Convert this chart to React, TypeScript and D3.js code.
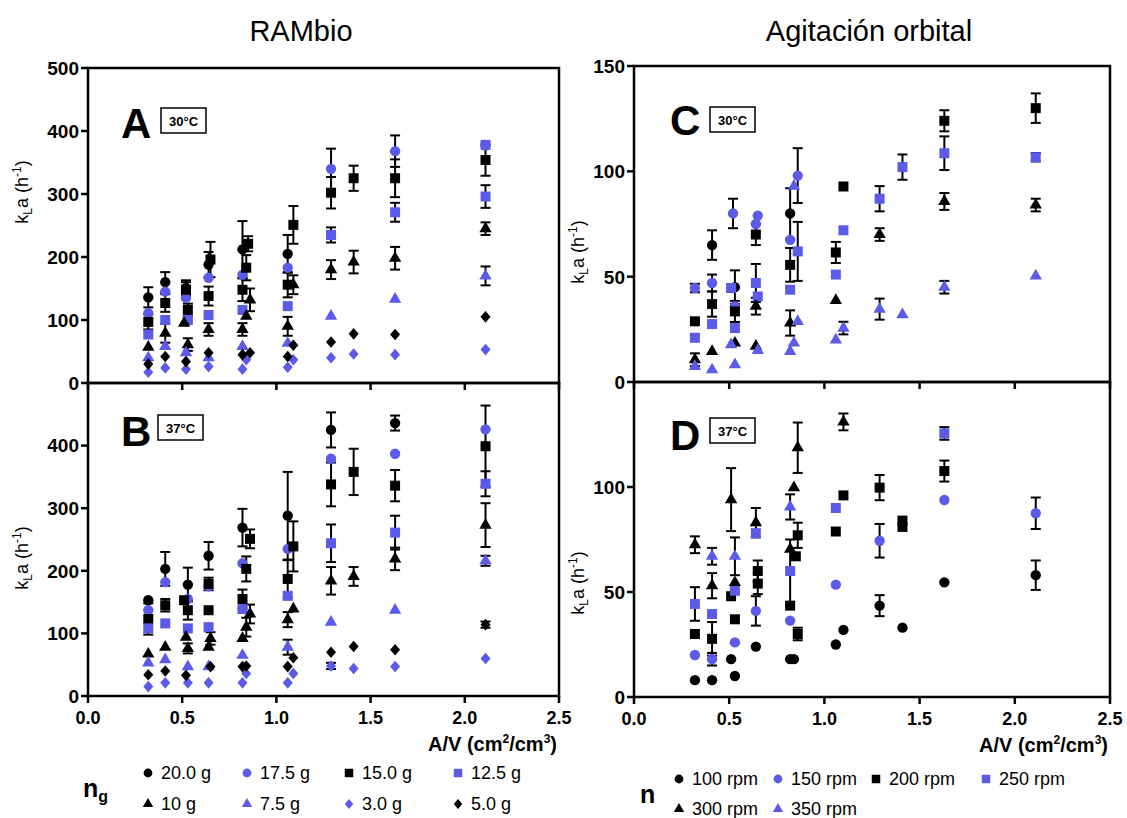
import React from 'react';
import * as d3 from 'd3';

type Pt = [number, number, number];

// ---------- Panel A: RAMbio 30°C (x = A/V, y = kLa, err) ----------
const A_g200: Pt[] = [[0.32,136,16],[0.41,160,16],[0.52,151,12],[0.64,188,20],[0.82,212,45],[1.06,205,30]];
const A_g175: Pt[] = [[0.32,111,0],[0.41,145,0],[0.52,135,0],[0.64,167,0],[0.82,172,0],[1.06,183,0],[1.29,340,32],[1.63,368,25],[2.11,377,0]];
const A_g150: Pt[] = [[0.32,97,12],[0.41,127,14],[0.52,148,12],[0.53,116,10],[0.65,196,28],[0.64,138,15],[0.85,221,12],[0.84,183,20],[0.82,148,18],[1.09,251,30],[1.06,156,20],[1.29,302,25],[1.41,325,20],[1.63,325,30],[2.11,354,25]];
const A_g125: Pt[] = [[0.32,77,0],[0.41,100,0],[0.53,100,0],[0.64,108,0],[0.82,116,0],[1.06,122,0],[1.29,235,12],[1.63,271,15],[2.11,296,18],[2.11,378,0]];
const A_g100: Pt[] = [[0.32,57,0],[0.41,79,15],[0.51,95,0],[0.53,61,10],[0.64,85,10],[0.86,132,18],[0.84,106,0],[0.82,85,10],[1.09,156,15],[1.06,90,15],[1.29,180,15],[1.41,192,18],[1.63,198,18],[2.11,245,10]];
const A_g75: Pt[] = [[0.32,40,0],[0.41,58,0],[0.52,48,0],[0.64,40,0],[0.82,58,0],[1.06,63,0],[1.29,106,0],[1.63,133,0],[2.11,170,15]];
const A_g30: Pt[] = [[0.32,17,0],[0.41,24,0],[0.52,22,0],[0.64,26,0],[0.82,22,0],[0.84,37,0],[1.06,25,0],[1.09,37,0],[1.29,40,0],[1.41,46,0],[1.63,45,0],[2.11,53,0]];
const A_g50: Pt[] = [[0.32,30,0],[0.41,42,0],[0.52,34,0],[0.64,48,0],[0.82,45,0],[0.86,48,0],[1.06,42,0],[1.09,60,0],[1.29,65,0],[1.41,78,0],[1.63,77,0],[2.11,105,0]];

// ---------- Panel B: RAMbio 37°C ----------
const B_g200: Pt[] = [[0.32,153,0],[0.41,203,27],[0.53,178,27],[0.64,224,22],[0.82,269,30],[1.06,288,70],[1.29,425,28],[1.63,436,12]];
const B_g175: Pt[] = [[0.32,137,0],[0.41,182,0],[0.53,155,0],[0.64,175,0],[0.82,212,0],[1.06,235,0],[1.29,379,0],[1.63,387,0],[2.11,426,0]];
const B_g150: Pt[] = [[0.32,123,25],[0.41,145,10],[0.51,153,0],[0.53,137,15],[0.64,179,10],[0.64,137,0],[0.86,251,15],[0.84,203,20],[0.82,155,15],[1.09,239,40],[1.06,187,30],[1.29,338,35],[1.41,358,37],[1.63,336,25],[2.11,399,65]];
const B_g125: Pt[] = [[0.32,108,0],[0.41,116,0],[0.53,108,0],[0.64,110,0],[0.82,139,0],[1.06,160,0],[1.29,244,30],[1.63,261,27],[2.11,339,20]];
const B_g100: Pt[] = [[0.32,67,0],[0.41,78,0],[0.52,94,0],[0.53,76,8],[0.65,92,10],[0.64,78,0],[0.86,131,15],[0.84,110,15],[0.82,92,0],[1.09,139,0],[1.06,122,12],[1.29,184,22],[1.41,191,15],[1.63,219,18],[2.11,273,35]];
const B_g75: Pt[] = [[0.32,53,0],[0.41,58,0],[0.53,47,0],[0.64,47,0],[0.82,65,0],[1.06,78,12],[1.29,118,0],[1.63,137,0],[2.11,216,8]];
const B_g30: Pt[] = [[0.32,15,0],[0.41,21,0],[0.53,21,0],[0.64,21,0],[0.82,21,0],[0.84,36,0],[1.06,21,0],[1.09,36,0],[1.29,48,5],[1.41,44,0],[1.63,47,0],[2.11,60,0]];
const B_g50: Pt[] = [[0.32,34,0],[0.41,40,0],[0.52,33,0],[0.65,47,0],[0.82,47,0],[0.84,48,0],[1.06,47,0],[1.09,61,0],[1.29,70,0],[1.41,79,0],[1.63,74,0],[2.11,114,5]];

// ---------- Panel C: orbital 30°C ----------
const C_100: Pt[] = [[0.41,65,7],[0.53,45,8],[0.82,80,12]];
const C_150: Pt[] = [[0.32,44.6,2],[0.41,47,4],[0.52,80,7],[0.53,36,0],[0.65,79,0],[0.64,75,0],[0.86,98,13],[0.82,67.5,0]];
const C_200: Pt[] = [[0.32,28.8,0],[0.41,37,6],[0.53,33.5,5],[0.64,70,5],[0.82,55.6,8],[1.10,92.8,0],[1.06,61.5,5],[1.63,124,5],[2.11,130,7]];
const C_250: Pt[] = [[0.32,21,0],[0.41,27.5,0],[0.51,44.6,0],[0.53,25.6,0],[0.64,47,9],[0.65,40.6,0],[0.86,62,14],[0.82,43.8,0],[1.10,72,0],[1.06,51,0],[1.29,87,6],[1.41,102,6],[1.63,108.6,8],[2.11,106.7,2]];
const C_300: Pt[] = [[0.32,10.6,3],[0.41,14.5,0],[0.53,18.5,0],[0.64,36,4],[0.64,17,0],[0.82,28,6],[1.06,38.7,0],[1.29,70,3],[1.63,85.7,4],[2.11,84,3]];
const C_350: Pt[] = [[0.32,7.4,0],[0.41,5.8,0],[0.51,17.7,0],[0.53,8.2,0],[0.65,15,0],[0.84,93,0],[0.86,28.8,0],[0.84,18.5,0],[0.82,14.5,0],[1.10,25.6,3],[1.06,20,0],[1.29,34.6,5],[1.41,32,0],[1.63,45,3],[2.11,50.4,0]];

// ---------- Panel D: orbital 37°C ----------
const D_100: Pt[] = [[0.32,8,0],[0.41,8,0],[0.51,18,0],[0.53,10,0],[0.64,24,0],[0.82,18,0],[0.84,18,0],[1.10,32,0],[1.06,25,0],[1.29,43.5,5],[1.41,33,0],[1.63,54.6,0],[2.11,58,7]];
const D_150: Pt[] = [[0.32,20,0],[0.41,18,3],[0.53,26,0],[0.64,41,7],[0.82,36.4,0],[1.06,53.5,0],[1.29,74.4,8],[1.63,93.8,0],[2.11,87.5,7.5]];
const D_200: Pt[] = [[0.32,30,0],[0.41,27.7,8],[0.51,48,0],[0.53,37,0],[0.65,60,5],[0.65,54,5],[0.86,77,6],[0.85,67,0],[0.82,43.5,0],[0.86,30,3],[1.10,96,0],[1.06,78.8,0],[1.29,99.7,6],[1.41,84,0],[1.41,81,0],[1.63,107.6,5]];
const D_250: Pt[] = [[0.32,44.3,8],[0.41,39.5,0],[0.53,50.6,0],[0.64,78,0],[0.82,60,15],[1.06,90,0],[1.63,125.5,3]];
const D_300: Pt[] = [[0.32,72.5,4],[0.41,53,6],[0.51,94,15],[0.53,54.5,0],[0.64,83,7],[0.86,118.7,12],[0.84,99.7,0],[0.82,70.4,0],[1.10,131,4]];
const D_350: Pt[] = [[0.41,67,4],[0.53,67,9],[0.82,90.5,6]];

// ---------- Legends / ticks ----------
const ramLabels = ['20.0 g', '17.5 g', '15.0 g', '12.5 g', '10 g', '7.5 g', '3.0 g', '5.0 g'];
const orbLabels = ['100 rpm', '150 rpm', '200 rpm', '250 rpm', '300 rpm', '350 rpm'];
const xTicks = [0, 0.5, 1.0, 1.5, 2.0, 2.5];
const ramTicksTop = [0, 100, 200, 300, 400, 500];
const ramTicksBot = [0, 100, 200, 300, 400];
const orbTicksTop = [0, 50, 100, 150];
const orbTicksBot = [0, 50, 100];

const BLUE = '#5b5be8';
const BLACK = '#000';
const FONT = 'Liberation Sans, Arial, Helvetica, sans-serif';
const NARROW = '"Liberation Sans Narrow", "Arial Narrow", "Liberation Sans", sans-serif';

type Shape = 'circle' | 'square' | 'triangle' | 'diamond';
const ramStyles: { shape: Shape; color: string }[] = [
  { shape: 'circle', color: BLACK }, { shape: 'circle', color: BLUE },
  { shape: 'square', color: BLACK }, { shape: 'square', color: BLUE },
  { shape: 'triangle', color: BLACK }, { shape: 'triangle', color: BLUE },
  { shape: 'diamond', color: BLUE }, { shape: 'diamond', color: BLACK },
];
const orbStyles: { shape: Shape; color: string }[] = [
  { shape: 'circle', color: BLACK }, { shape: 'circle', color: BLUE },
  { shape: 'square', color: BLACK }, { shape: 'square', color: BLUE },
  { shape: 'triangle', color: BLACK }, { shape: 'triangle', color: BLUE },
];

function symbolPath(shape: Shape, k = 1): string {
  if (shape === 'circle') return d3.symbol().type(d3.symbolCircle).size(84 * k * k)() as string;
  if (shape === 'square') return d3.symbol().type(d3.symbolSquare).size(100 * k * k)() as string;
  if (shape === 'triangle') return d3.symbol().type(d3.symbolTriangle).size(66 * k * k)() as string;
  const w = 5 * k, h = 5.8 * k;
  return `M0,${-h}L${w},0L0,${h}L${-w},0Z`;
}

interface PanelDef {
  letter: string; temp: string;
  x0: number; x1: number; yTop: number; yBot: number; yMax: number;
  yTicks: number[]; bottom: boolean;
  series: Pt[][]; styles: { shape: Shape; color: string }[];
  letterX: number; letterY: number; boxX: number; boxY: number;
  ylabX: number; ylabY: number;
}

const panels: PanelDef[] = [
  { letter: 'A', temp: '30°C', x0: 88, x1: 559, yTop: 68, yBot: 383, yMax: 500, yTicks: ramTicksTop, bottom: false,
    series: [A_g200, A_g175, A_g150, A_g125, A_g100, A_g75, A_g30, A_g50], styles: ramStyles,
    letterX: 121, letterY: 138, boxX: 161, boxY: 108, ylabX: 28, ylabY: 192 },
  { letter: 'B', temp: '37°C', x0: 88, x1: 559, yTop: 383, yBot: 696, yMax: 500, yTicks: ramTicksBot, bottom: true,
    series: [B_g200, B_g175, B_g150, B_g125, B_g100, B_g75, B_g30, B_g50], styles: ramStyles,
    letterX: 121, letterY: 446, boxX: 158, boxY: 415, ylabX: 28, ylabY: 558 },
  { letter: 'C', temp: '30°C', x0: 634, x1: 1110, yTop: 66, yBot: 382, yMax: 150, yTicks: orbTicksTop, bottom: false,
    series: [C_100, C_150, C_200, C_250, C_300, C_350], styles: orbStyles,
    letterX: 670, letterY: 135, boxX: 710, boxY: 107, ylabX: 584, ylabY: 252 },
  { letter: 'D', temp: '37°C', x0: 634, x1: 1110, yTop: 382, yBot: 697, yMax: 150, yTicks: orbTicksBot, bottom: true,
    series: [D_100, D_150, D_200, D_250, D_300, D_350], styles: orbStyles,
    letterX: 670, letterY: 450, boxX: 710, boxY: 418, ylabX: 584, ylabY: 583 },
];

function YLabel({ x, y }: { x: number; y: number }) {
  return (
    <text transform={`translate(${x},${y}) rotate(-90)`} textAnchor="middle" fontSize={18} fontFamily={FONT}>
      k<tspan fontSize={12} dy={4}>L</tspan><tspan dy={-4}>a (h</tspan><tspan fontSize={12} dy={-7}>-1</tspan><tspan dy={7}>)</tspan>
    </text>
  );
}

function Panel({ p }: { p: PanelDef }) {
  const x = d3.scaleLinear().domain([0, 2.5]).range([p.x0, p.x1]);
  const y = d3.scaleLinear().domain([0, p.yMax]).range([p.yBot, p.yTop]);
  return (
    <g>
      {p.series.map((s, si) => (
        <g key={'e' + si}>
          {s.filter(d => d[2] > 0).map((d, i) => {
            const cx = x(d[0]), yl = y(d[1] - d[2]), yh = y(d[1] + d[2]);
            return (
              <g key={i} stroke="#000" strokeWidth={2}>
                <line x1={cx} x2={cx} y1={yl} y2={yh} />
                <line x1={cx - 5} x2={cx + 5} y1={yl} y2={yl} />
                <line x1={cx - 5} x2={cx + 5} y1={yh} y2={yh} />
              </g>
            );
          })}
        </g>
      ))}
      {p.series.map((s, si) => (
        <g key={'m' + si} fill={p.styles[si].color}>
          {s.map((d, i) => (
            <path key={i} d={symbolPath(p.styles[si].shape)} transform={`translate(${x(d[0])},${y(d[1])})`} />
          ))}
        </g>
      ))}
      <rect x={p.x0} y={p.yTop} width={p.x1 - p.x0} height={p.yBot - p.yTop} fill="none" stroke="#000" strokeWidth={2.5} />
      {p.yTicks.map(t => (
        <g key={t}>
          <line x1={p.x0 - 7} x2={p.x0} y1={y(t)} y2={y(t)} stroke="#000" strokeWidth={2.5} />
          <text x={p.x0 - 9} y={y(t)} dy="0.36em" textAnchor="end" fontSize={19} fontWeight="bold" fontFamily={FONT}>{t}</text>
        </g>
      ))}
      {xTicks.map(t => (
        <g key={t}>
          <line x1={x(t)} x2={x(t)} y1={p.yBot} y2={p.yBot + 7} stroke="#000" strokeWidth={2.5} />
          {p.bottom && (
            <text x={x(t)} y={p.yBot + 28} textAnchor="middle" fontSize={18} fontWeight="bold" fontFamily={FONT}>{d3.format('.1f')(t)}</text>
          )}
        </g>
      ))}
      {p.bottom && (
        <text x={p.x1 - 2} y={p.yBot + 55} textAnchor="end" fontSize={20} fontWeight="bold" fontFamily={FONT}>
          A/V (cm<tspan fontSize={12} dy={-8}>2</tspan><tspan dy={8}>/cm</tspan><tspan fontSize={12} dy={-8}>3</tspan><tspan dy={8}>)</tspan>
        </text>
      )}
      <text x={p.letterX} y={p.letterY} fontSize={42} fontWeight="bold" fontFamily={FONT}>{p.letter}</text>
      <rect x={p.boxX} y={p.boxY} width={45} height={25} fill="#fff" stroke="#000" strokeWidth={1.5} />
      <text x={p.boxX + 22.5} y={p.boxY + 17.5} textAnchor="middle" fontSize={13} fontWeight="bold" fontFamily={FONT}>{p.temp}</text>
      <YLabel x={p.ylabX} y={p.ylabY} />
    </g>
  );
}

function LegendItem({ x, y, label, style }: { x: number; y: number; label: string; style: { shape: Shape; color: string } }) {
  return (
    <g>
      <path d={symbolPath(style.shape, 0.85)} transform={`translate(${x},${y})`} fill={style.color} />
      <text x={x + 13} y={y} dy="0.36em" fontSize={18} fontFamily={NARROW}>{label}</text>
    </g>
  );
}

export default function App() {
  const ramX = [148, 247, 349, 458];
  const ramY = [773, 804];
  const orbX = [679, 778, 876, 986];
  const orbY = [779, 809];
  return (
    <svg width={1127} height={818} style={{ position: 'absolute', left: 0, top: 0, background: '#fff' }}>
      <rect width={1127} height={818} fill="#fff" />
      <text x={301} y={41} textAnchor="middle" fontSize={29} fontFamily={FONT}>RAMbio</text>
      <text x={869} y={41} textAnchor="middle" fontSize={29} fontFamily={FONT}>Agitación orbital</text>
      {panels.map(p => <Panel key={p.letter} p={p} />)}
      <text x={83} y={797} fontSize={25} fontWeight="bold" fontFamily={NARROW}>n<tspan fontSize={16} dy={5}>g</tspan></text>
      {ramLabels.map((l, i) => (
        <LegendItem key={l} x={ramX[i % 4]} y={ramY[Math.floor(i / 4)]} label={l} style={ramStyles[i]} />
      ))}
      <text x={640} y={803} fontSize={25} fontWeight="bold" fontFamily={NARROW}>n</text>
      {orbLabels.map((l, i) => (
        <LegendItem key={l} x={orbX[i % 4]} y={orbY[Math.floor(i / 4)]} label={l} style={orbStyles[i]} />
      ))}
    </svg>
  );
}
